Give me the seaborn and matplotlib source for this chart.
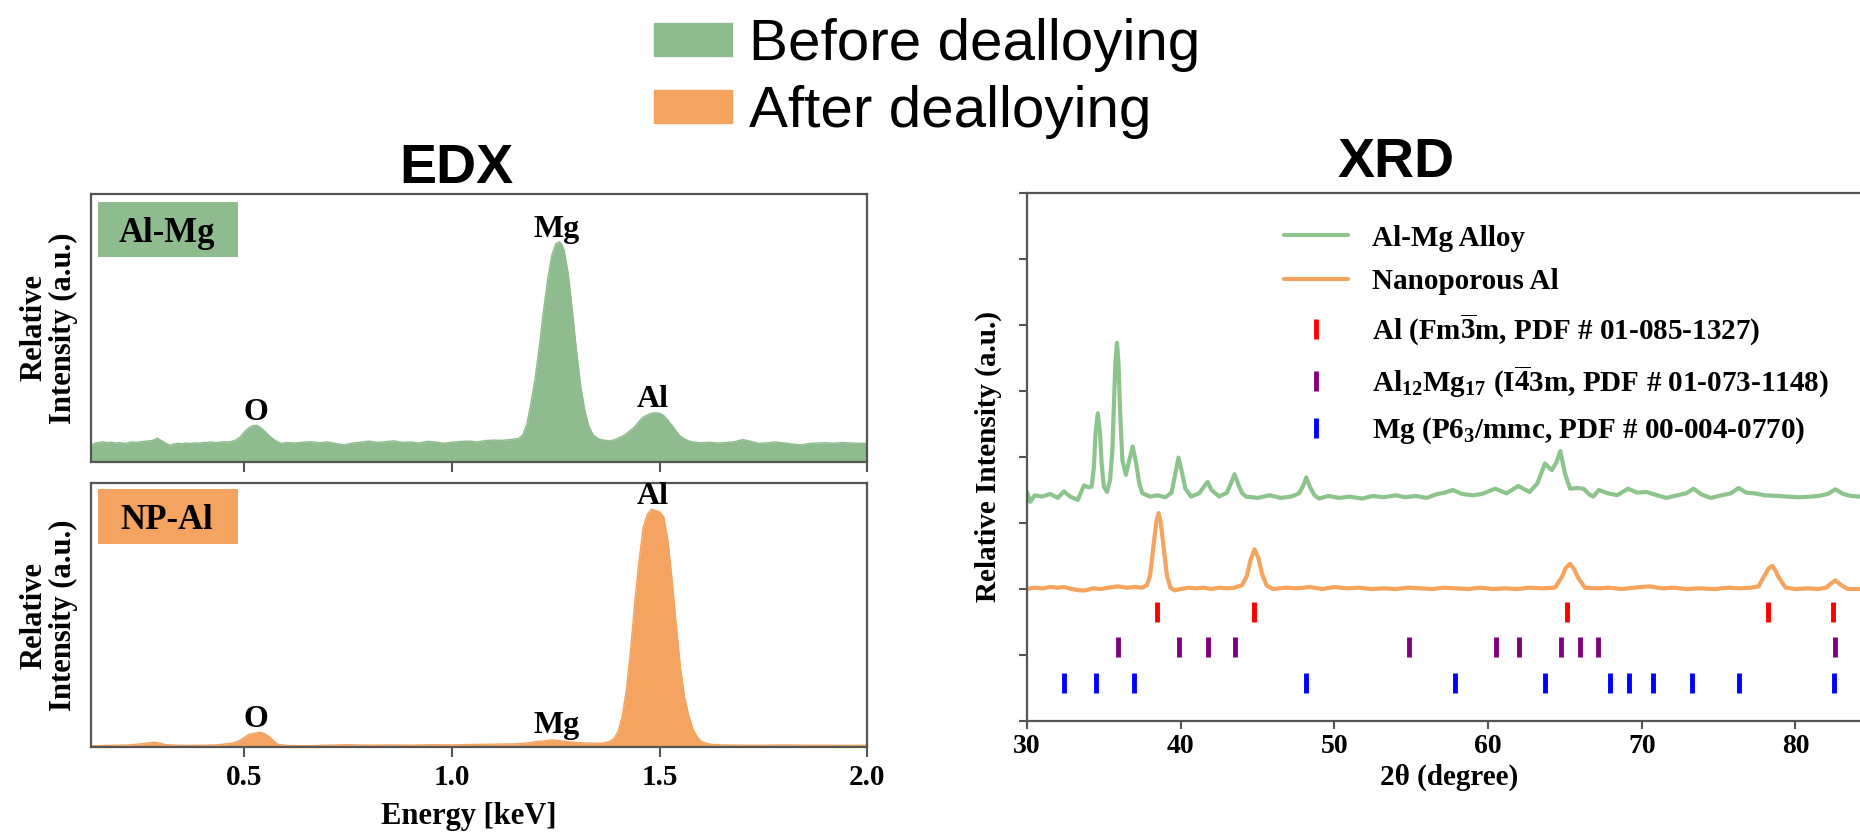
import numpy as np
import pandas as pd
import matplotlib
matplotlib.use('Agg')
import matplotlib.pyplot as plt
import seaborn as sns
from matplotlib.lines import Line2D
from matplotlib.patches import Patch, Rectangle

sns.set_theme(style='white')
plt.rcParams['font.family'] = ['Liberation Serif', 'DejaVu Serif']
plt.rcParams['mathtext.fontset'] = 'custom'
plt.rcParams['mathtext.rm'] = 'Liberation Serif:bold'
plt.rcParams['mathtext.bf'] = 'Liberation Serif:bold'
plt.rcParams['mathtext.it'] = 'Liberation Serif:italic:bold'
plt.rcParams['font.weight'] = 'bold'
plt.rcParams['text.color'] = 'black'
plt.rcParams['axes.labelcolor'] = 'black'
plt.rcParams['xtick.color'] = 'black'
plt.rcParams['ytick.color'] = 'black'

GREEN = '#8fbc8f'
ORANGE = '#f4a460'
XGREEN = '#8cc48c'
XORANGE = '#f5a35e'
SPINE = '#555555'

# ---------------- EDX data (energy keV, relative intensity) ----------------
edx_before_x = [0.13, 0.14, 0.15, 0.16, 0.17, 0.18, 0.19, 0.20, 0.21, 0.22, 0.23, 0.24, 0.25, 0.26,
                0.27, 0.28, 0.29, 0.30, 0.31, 0.32, 0.33, 0.34, 0.35, 0.36, 0.37, 0.38, 0.39, 0.40,
                0.41, 0.42, 0.43, 0.44, 0.45, 0.46, 0.47, 0.48, 0.49, 0.50, 0.51, 0.52, 0.53, 0.54,
                0.55, 0.56, 0.57, 0.58, 0.59, 0.60, 0.62, 0.64, 0.66, 0.68, 0.70, 0.72, 0.74, 0.76,
                0.78, 0.80, 0.82, 0.84, 0.86, 0.88, 0.90, 0.92, 0.94, 0.96, 0.98, 1.00, 1.02, 1.04,
                1.06, 1.08, 1.10, 1.12, 1.14, 1.16, 1.17, 1.18, 1.19, 1.20, 1.21, 1.22, 1.23, 1.24,
                1.25, 1.258, 1.265, 1.27, 1.28, 1.29, 1.30, 1.31, 1.32, 1.33, 1.34, 1.35, 1.36, 1.37,
                1.38, 1.39, 1.40, 1.41, 1.42, 1.43, 1.44, 1.45, 1.46, 1.47, 1.48, 1.49, 1.50, 1.51,
                1.52, 1.53, 1.54, 1.55, 1.56, 1.57, 1.58, 1.60, 1.62, 1.64, 1.66, 1.68, 1.70, 1.72,
                1.74, 1.76, 1.78, 1.80, 1.82, 1.84, 1.86, 1.88, 1.90, 1.92, 1.94, 1.96, 1.98, 2.00]
edx_before_y = [0.060, 0.070, 0.072, 0.075, 0.071, 0.073, 0.070, 0.072, 0.068, 0.071, 0.074, 0.072, 0.075, 0.076,
                0.078, 0.080, 0.088, 0.079, 0.070, 0.062, 0.066, 0.069, 0.067, 0.070, 0.068, 0.071, 0.069, 0.072,
                0.072, 0.074, 0.071, 0.073, 0.075, 0.074, 0.076, 0.082, 0.093, 0.112, 0.126, 0.135, 0.136, 0.126,
                0.112, 0.097, 0.084, 0.074, 0.068, 0.072, 0.070, 0.073, 0.075, 0.071, 0.074, 0.068, 0.063, 0.070,
                0.073, 0.077, 0.072, 0.075, 0.078, 0.072, 0.074, 0.070, 0.076, 0.074, 0.069, 0.073, 0.076, 0.077,
                0.074, 0.079, 0.081, 0.080, 0.083, 0.087, 0.100, 0.140, 0.220, 0.310, 0.430, 0.560, 0.680, 0.770,
                0.815, 0.822, 0.810, 0.790, 0.700, 0.560, 0.410, 0.280, 0.190, 0.130, 0.100, 0.088, 0.082, 0.080,
                0.078, 0.082, 0.088, 0.095, 0.105, 0.118, 0.131, 0.150, 0.166, 0.175, 0.181, 0.183, 0.181, 0.172,
                0.155, 0.135, 0.113, 0.095, 0.085, 0.078, 0.074, 0.071, 0.073, 0.070, 0.072, 0.075, 0.083, 0.076,
                0.068, 0.071, 0.074, 0.070, 0.066, 0.063, 0.068, 0.070, 0.071, 0.069, 0.072, 0.070, 0.069, 0.068]

edx_after_x = [0.13, 0.16, 0.19, 0.22, 0.25, 0.27, 0.28, 0.29, 0.30, 0.31, 0.34, 0.37, 0.40, 0.43,
               0.45, 0.47, 0.48, 0.49, 0.50, 0.51, 0.52, 0.53, 0.54, 0.55, 0.56, 0.57, 0.58, 0.60,
               0.65, 0.70, 0.75, 0.80, 0.85, 0.90, 0.95, 1.00, 1.05, 1.10, 1.15, 1.18, 1.20, 1.22,
               1.24, 1.26, 1.28, 1.30, 1.33, 1.36, 1.38, 1.39, 1.40, 1.41, 1.42, 1.43, 1.44, 1.45,
               1.46, 1.47, 1.48, 1.49, 1.50, 1.51, 1.52, 1.53, 1.54, 1.55, 1.56, 1.57, 1.58, 1.59,
               1.60, 1.62, 1.65, 1.70, 1.75, 1.80, 1.85, 1.90, 1.95, 2.00]
edx_after_y = [0.005, 0.007, 0.008, 0.009, 0.013, 0.017, 0.019, 0.018, 0.015, 0.010, 0.008, 0.007, 0.008, 0.009,
               0.012, 0.016, 0.020, 0.027, 0.038, 0.048, 0.052, 0.055, 0.057, 0.050, 0.040, 0.025, 0.012, 0.007,
               0.006, 0.008, 0.010, 0.008, 0.009, 0.008, 0.010, 0.009, 0.011, 0.012, 0.013, 0.016, 0.021, 0.024,
               0.028, 0.025, 0.021, 0.018, 0.016, 0.015, 0.022, 0.034, 0.060, 0.120, 0.220, 0.370, 0.550, 0.700,
               0.830, 0.880, 0.900, 0.895, 0.890, 0.870, 0.780, 0.630, 0.460, 0.300, 0.190, 0.120, 0.070, 0.040,
               0.022, 0.012, 0.009, 0.008, 0.008, 0.009, 0.008, 0.008, 0.007, 0.008]

edx_ticks = [0.5, 1.0, 1.5, 2.0]
edx_tick_labels = ['0.5', '1.0', '1.5', '2.0']
edx_before_peaks = [('O', 0.527, 0.156), ('Mg', 1.252, 0.84), ('Al', 1.484, 0.205)]
edx_after_peaks = [('O', 0.527, 0.078), ('Mg', 1.252, 0.053), ('Al', 1.484, 0.918)]

# ---------------- XRD data (2theta, offset intensity) ----------------
xrd_alloy_x = [30.0, 30.2, 30.5, 31.0, 31.5, 32.0, 32.4, 32.8, 33.3, 33.7, 34.0, 34.2, 34.35, 34.45, 34.6,
               34.75, 34.85, 35.0, 35.2, 35.4, 35.55, 35.65, 35.75, 35.85, 35.95, 36.05, 36.2, 36.43, 36.65,
               36.87, 37.1, 37.3, 37.5, 38.0, 38.5, 39.0, 39.4, 39.65, 39.85, 40.05, 40.3, 40.67, 41.2,
               41.5, 41.75, 42.0, 42.5, 43.0, 43.3, 43.5, 43.75, 44.0, 44.25, 45.0, 45.8, 46.5, 47.2,
               47.7, 48.0, 48.17, 48.4, 48.7, 49.0, 49.6, 50.3, 51.0, 51.8, 52.5, 53.2, 54.0, 54.6,
               55.3, 56.0, 56.7, 57.2, 57.7, 58.3, 59.0, 59.6, 60.45, 61.2, 61.96, 62.7, 63.2, 63.7,
               64.14, 64.45, 64.7, 65.0, 65.33, 65.8, 66.2, 66.6, 66.85, 67.2, 67.8, 68.4, 69.1, 69.7,
               70.3, 71.0, 71.6, 72.3, 72.9, 73.37, 73.9, 74.5, 75.2, 75.8, 76.3, 76.8, 77.3, 78.0,
               78.8, 79.5, 80.2, 81.0, 81.5, 82.1, 82.6, 83.1, 83.6, 84.2]
xrd_alloy_y = [3.47, 3.32, 3.42, 3.40, 3.44, 3.38, 3.48, 3.40, 3.35, 3.57, 3.54, 3.55, 3.85, 4.35, 4.66,
               4.35, 3.90, 3.55, 3.47, 3.65, 4.10, 4.80, 5.45, 5.73, 5.40, 4.70, 3.95, 3.73, 3.95,
               4.16, 3.90, 3.60, 3.45, 3.40, 3.42, 3.39, 3.46, 3.75, 3.99, 3.80, 3.52, 3.40, 3.45,
               3.55, 3.62, 3.50, 3.40, 3.46, 3.62, 3.74, 3.58, 3.45, 3.40, 3.38, 3.42, 3.38, 3.40,
               3.45, 3.58, 3.69, 3.55, 3.42, 3.37, 3.41, 3.38, 3.40, 3.37, 3.41, 3.39, 3.42, 3.39,
               3.41, 3.38, 3.44, 3.46, 3.50, 3.44, 3.42, 3.44, 3.52, 3.45, 3.56, 3.47, 3.60, 3.90,
               3.80, 3.92, 4.09, 3.75, 3.52, 3.53, 3.52, 3.43, 3.40, 3.50, 3.45, 3.42, 3.52, 3.46,
               3.47, 3.42, 3.38, 3.42, 3.45, 3.52, 3.43, 3.38, 3.42, 3.45, 3.53, 3.46, 3.45, 3.42,
               3.41, 3.40, 3.39, 3.40, 3.41, 3.44, 3.51, 3.44, 3.41, 3.40]

xrd_np_x = [30.0, 30.5, 31.0, 31.5, 32.0, 32.4, 32.9, 33.4, 33.8, 34.3, 34.8, 35.3, 35.9, 36.5, 37.0,
            37.5, 37.8, 38.0, 38.2, 38.4, 38.55, 38.7, 38.9, 39.1, 39.33, 39.6, 40.0, 40.5, 41.0,
            41.5, 42.0, 42.5, 43.0, 43.5, 44.0, 44.3, 44.55, 44.8, 45.05, 45.3, 45.6, 46.0, 46.8,
            47.6, 48.4, 49.2, 50.0, 50.8, 51.6, 52.4, 53.2, 54.0, 54.8, 55.6, 56.4, 57.1, 57.9,
            58.7, 59.5, 60.3, 61.1, 61.9, 62.7, 63.5, 64.35, 64.8, 65.05, 65.33, 65.6, 65.86, 66.3,
            67.1, 67.9, 68.7, 69.5, 70.5, 71.3, 72.1, 72.9, 73.7, 74.8, 75.6, 76.4, 77.1, 77.6,
            78.0, 78.25, 78.5, 78.7, 78.9, 79.36, 80.0, 80.8, 81.5, 82.0, 82.3, 82.6, 82.97, 83.4,
            84.2]
xrd_np_y = [2.00, 2.02, 2.01, 2.03, 2.02, 2.03, 2.00, 1.98, 1.98, 2.01, 2.00, 2.02, 2.04, 2.02, 2.03,
            2.02, 2.06, 2.20, 2.60, 3.00, 3.15, 3.00, 2.60, 2.20, 2.02, 1.98, 2.00, 2.02, 2.01,
            2.02, 2.00, 2.02, 2.01, 2.02, 2.06, 2.20, 2.45, 2.60, 2.47, 2.22, 2.05, 2.00, 2.02,
            2.01, 2.03, 2.00, 2.03, 2.01, 2.02, 2.00, 2.01, 2.00, 2.02, 2.01, 2.00, 2.02, 2.01,
            2.00, 2.02, 2.00, 2.01, 2.00, 2.02, 2.01, 2.02, 2.18, 2.32, 2.38, 2.30, 2.17, 2.02,
            2.01, 2.02, 2.00, 2.02, 2.04, 2.01, 2.02, 2.00, 2.01, 2.00, 2.02, 2.01, 2.02, 2.04,
            2.21, 2.31, 2.35, 2.28, 2.18, 2.02, 2.00, 2.01, 2.00, 2.02, 2.08, 2.13, 2.06, 2.00,
            2.00]

ref_al = [38.47, 44.74, 65.13, 78.23, 82.44]
ref_al12mg17 = [35.9, 39.86, 41.8, 43.5, 54.84, 60.5, 61.98, 64.73, 66.0, 67.14, 82.6]
ref_mg = [32.37, 34.49, 36.96, 48.16, 57.84, 63.71, 67.92, 69.19, 70.71, 73.29, 76.33, 82.54]
ref_levels = {'al': (1.50, 1.80), 'al12mg17': (0.97, 1.27), 'mg': (0.42, 0.72)}
xrd_ticks = [30, 40, 50, 60, 70, 80]

legend_labels = ['Al-Mg Alloy', 'Nanoporous Al',
                 r'Al (Fm$\overline{3}$m, PDF # 01-085-1327)',
                 r'Al$_{12}$Mg$_{17}$ (I$\overline{4}$3m, PDF # 01-073-1148)',
                 r'Mg (P6$_{3}$/mmc, PDF # 00-004-0770)']

# ---------------- figure ----------------
fig = plt.figure(figsize=(18.6, 8.35), dpi=100)
fig.patch.set_facecolor('white')

ax_top = fig.add_axes([0.0488, 0.447, 0.4175, 0.3206])
ax_bot = fig.add_axes([0.0488, 0.105, 0.4175, 0.3169])
ax_xrd = fig.add_axes([0.5522, 0.1365, 0.4478, 0.6324])

serif = 'Liberation Serif'


def style_edx(ax, show_labels):
    for s in ax.spines.values():
        s.set_visible(True)
        s.set_color(SPINE)
        s.set_linewidth(1.6)
    ax.set_xlim(0.13, 2.0)
    ax.set_ylim(0, 1)
    ax.set_yticks([])
    ax.set_xticks(edx_ticks)
    ax.tick_params(axis='x', bottom=True, direction='out', length=7, width=1.5,
                   color=SPINE, labelcolor='black', pad=5)
    if show_labels:
        ax.set_xticklabels(edx_tick_labels, fontsize=21, fontweight='bold', family=serif)
    else:
        ax.set_xticklabels([])
    ax.set_xlabel('')
    ax.set_ylabel('')
    ax.text(-0.054, 0.5, 'Relative\nIntensity (a.u.)', transform=ax.transAxes,
            rotation=90, ha='center', va='center', fontsize=22, fontweight='bold',
            family=serif, linespacing=1.05, multialignment='center')


# EDX before
ax_top.fill_between(edx_before_x, 0, edx_before_y, color=GREEN, lw=0)
sns.lineplot(x=edx_before_x, y=edx_before_y, ax=ax_top, color=GREEN, lw=1,
             sort=False, estimator=None)
style_edx(ax_top, False)
for name, xx, yy in edx_before_peaks:
    ax_top.text(xx, yy, name, ha='center', va='baseline', fontsize=23,
                fontweight='bold', family=serif)
ax_top.add_patch(Rectangle((0.009, 0.763), 0.181, 0.206, transform=ax_top.transAxes,
                           facecolor=GREEN, edgecolor='none'))
ax_top.text(0.098, 0.822, 'Al-Mg', transform=ax_top.transAxes, ha='center',
            va='baseline', fontsize=25, fontweight='bold', family=serif)

# EDX after
ax_bot.fill_between(edx_after_x, 0, edx_after_y, color=ORANGE, lw=0)
sns.lineplot(x=edx_after_x, y=edx_after_y, ax=ax_bot, color=ORANGE, lw=1,
             sort=False, estimator=None)
style_edx(ax_bot, True)
for name, xx, yy in edx_after_peaks:
    ax_bot.text(xx, yy, name, ha='center', va='baseline', fontsize=23,
                fontweight='bold', family=serif)
ax_bot.add_patch(Rectangle((0.009, 0.768), 0.181, 0.208, transform=ax_bot.transAxes,
                           facecolor=ORANGE, edgecolor='none'))
ax_bot.text(0.098, 0.824, 'NP-Al', transform=ax_bot.transAxes, ha='center',
            va='baseline', fontsize=25, fontweight='bold', family=serif)
ax_bot.text(0.487, -0.263, 'Energy [keV]', transform=ax_bot.transAxes, ha='center',
            va='center', fontsize=22, fontweight='bold', family=serif)

# XRD
df_alloy = pd.DataFrame({'two_theta': xrd_alloy_x, 'intensity': xrd_alloy_y})
df_np = pd.DataFrame({'two_theta': xrd_np_x, 'intensity': xrd_np_y})
sns.lineplot(data=df_alloy, x='two_theta', y='intensity', ax=ax_xrd, color=XGREEN,
             lw=3, sort=False, estimator=None)
sns.lineplot(data=df_np, x='two_theta', y='intensity', ax=ax_xrd, color=XORANGE,
             lw=3, sort=False, estimator=None)
ax_xrd.vlines(ref_al, *ref_levels['al'], colors='#ff0000', lw=3.5)
ax_xrd.vlines(ref_al12mg17, *ref_levels['al12mg17'], colors='#800080', lw=3.5)
ax_xrd.vlines(ref_mg, *ref_levels['mg'], colors='#0000ff', lw=3.5)

ax_xrd.set_xlim(30, 84.2)
ax_xrd.set_ylim(0, 8)
ax_xrd.set_xticks(xrd_ticks)
ax_xrd.set_xticklabels([str(t) for t in xrd_ticks], fontsize=20, fontweight='bold', family=serif)
ax_xrd.set_yticks(range(0, 9))
ax_xrd.set_yticklabels([])
ax_xrd.tick_params(axis='x', bottom=True, direction='out', length=6, width=1.5, color=SPINE,
                   labelcolor='black', pad=3)
ax_xrd.tick_params(axis='y', left=True, direction='out', length=6, width=1.5, color=SPINE)
for side in ['left', 'bottom', 'top']:
    ax_xrd.spines[side].set_visible(True)
    ax_xrd.spines[side].set_color(SPINE)
    ax_xrd.spines[side].set_linewidth(1.6)
ax_xrd.spines['right'].set_visible(False)
ax_xrd.set_xlabel('')
ax_xrd.set_ylabel('')
ax_xrd.text(0.507, -0.106, '2θ (degree)', transform=ax_xrd.transAxes, ha='center',
            va='center', fontsize=21, fontweight='bold', family=serif)
ax_xrd.text(-0.046, 0.5, 'Relative Intensity (a.u.)', transform=ax_xrd.transAxes,
            rotation=90, ha='center', va='center', fontsize=21, fontweight='bold', family=serif)

handles = [Line2D([], [], color=XGREEN, lw=3),
           Line2D([], [], color=XORANGE, lw=3),
           Line2D([], [], color='#ff0000', marker='|', ls='None', markersize=15, markeredgewidth=3.5),
           Line2D([], [], color='#800080', marker='|', ls='None', markersize=15, markeredgewidth=3.5),
           Line2D([], [], color='#0000ff', marker='|', ls='None', markersize=15, markeredgewidth=3.5)]
ax_xrd.legend(handles, legend_labels, loc='upper left', bbox_to_anchor=(0.3085, 0.94),
              frameon=False, prop={'family': serif, 'weight': 'bold', 'size': 21},
              handlelength=2.2, handletextpad=0.8, labelspacing=0.56, borderpad=0,
              borderaxespad=0)

# Titles
fig.text(456 / 1860, 1 - 169 / 835, 'EDX', ha='center', va='center', fontsize=40,
         fontweight='bold', family='Liberation Sans')
fig.text(1396 / 1860, 1 - 163 / 835, 'XRD', ha='center', va='center', fontsize=40,
         fontweight='bold', family='Liberation Sans')

# Top legend
fig.legend(handles=[Patch(color=GREEN, label='Before dealloying'),
                    Patch(color=ORANGE, label='After dealloying')],
           loc='upper left', bbox_to_anchor=(654 / 1860, 0.978), frameon=False,
           prop={'family': 'Liberation Sans', 'size': 42, 'weight': 'normal'},
           handlelength=1.33, handleheight=0.48, handletextpad=0.3, labelspacing=0.22,
           borderpad=0, borderaxespad=0)

fig.savefig('out.png', dpi=100, facecolor='white')
